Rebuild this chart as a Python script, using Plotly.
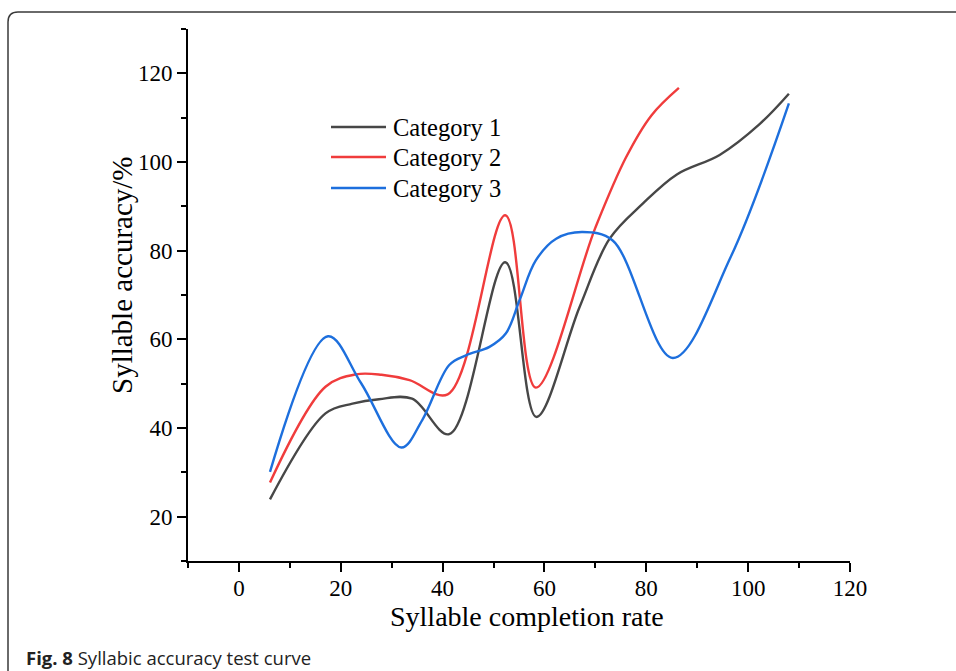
import plotly.graph_objects as go

# ---------------- data ----------------
series_names = ["Category 1", "Category 2", "Category 3"]

cat1_x = [6.1, 17.0, 22.3, 27.5, 34.0, 41.3, 52.3, 58.4, 66.9, 72.8, 79.3, 86.0, 94.4, 102.3, 108.0]
cat1_y = [23.9, 43.3, 45.5, 46.5, 46.6, 38.6, 77.4, 42.5, 67.3, 82.7, 90.6, 97.2, 101.6, 108.6, 115.4]

cat2_x = [6.1, 17.0, 23.0, 28.0, 33.5, 41.0, 52.3, 58.3, 70.0, 76.0, 81.0, 86.4]
cat2_y = [27.7, 49.3, 52.1, 52.0, 50.8, 47.6, 88.0, 49.1, 85.2, 101.0, 110.5, 116.7]

cat3_x = [6.1, 17.5, 24.0, 31.9, 36.0, 41.3, 44.6, 49.2, 52.4, 55.1, 58.3, 62.3, 67.5, 73.4, 85.2, 96.5, 108.0]
cat3_y = [30.1, 60.7, 50.1, 35.6, 41.8, 54.2, 56.4, 58.3, 61.3, 68.8, 77.8, 82.7, 84.2, 82.3, 55.8, 78.4, 113.2]

x_tick_vals = [0, 20, 40, 60, 80, 100, 120]
y_tick_vals = [20, 40, 60, 80, 100, 120]

x_title = "Syllable completion rate"
y_title = "Syllable accuracy/%"
caption_bold = "Fig. 8"
caption_text = " Syllabic accuracy test curve"

# ---------------- styling / layout ----------------
W, H = 956, 671
ML, MR, MT, MB = 188, 106, 29, 110
PW, PH = W - ML - MR, H - MT - MB

def px(xp):
    return (xp - ML) / PW

def py(yp):
    return (H - MB - yp) / PH

colors = ["#474747", "#f03c3c", "#1d6fdd"]
serif = "Liberation Serif, Times New Roman, serif"

fig = go.Figure()
for name, xs, ys, c in zip(series_names, [cat1_x, cat2_x, cat3_x], [cat1_y, cat2_y, cat3_y], colors):
    fig.add_trace(go.Scatter(x=xs, y=ys, mode="lines", name=name, showlegend=False,
                             line=dict(color=c, width=2.4, shape="spline", smoothing=1.0)))

axis_common = dict(showline=True, linecolor="black", linewidth=2, ticks="outside",
                   ticklen=9, tickwidth=2, tickcolor="black", showgrid=False, zeroline=False,
                   tickfont=dict(family=serif, size=23, color="black"),
                   minor=dict(ticks="outside", ticklen=5, tickwidth=2, tickcolor="black", dtick=10, showgrid=False))

fig.update_layout(
    width=W, height=H, margin=dict(l=ML, r=MR, t=MT, b=MB),
    paper_bgcolor="white", plot_bgcolor="white", showlegend=False,
    xaxis=dict(range=[-10, 120], tickvals=x_tick_vals, ticklabelstandoff=-4, **axis_common),
    yaxis=dict(range=[10, 130], tickvals=y_tick_vals, ticklabelstandoff=0, **axis_common),
)

P = dict(xref="paper", yref="paper", showarrow=False)
annotations = [
    dict(x=px(527), y=py(616), text=x_title, xanchor="center", yanchor="middle",
         font=dict(family=serif, size=28, color="black"), **P),
    dict(x=px(122), y=py(275), text=y_title, xanchor="center", yanchor="middle",
         textangle=-90, font=dict(family=serif, size=29, color="black"), **P),
    dict(x=px(24), y=py(657), text="<b>" + caption_bold + "</b>" + caption_text,
         xanchor="left", yanchor="middle", font=dict(family="Open Sans, sans-serif", size=18.5, color="#222"), **P),
]
shapes = []
leg_y = [127, 157, 188]
for name, c, yy in zip(series_names, colors, leg_y):
    shapes.append(dict(type="line", xref="paper", yref="paper", x0=px(331), x1=px(386), y0=py(yy), y1=py(yy),
                       line=dict(color=c, width=2.4)))
    annotations.append(dict(x=px(391), y=py(yy), text=name, xanchor="left", yanchor="middle",
                            font=dict(family=serif, size=24.5, color="black"), **P))

# rounded frame around the figure
r = 10
L, T, R, B = 8, 12, 970, 685
path = (f"M {px(R)},{py(T)} L {px(L + r)},{py(T)} Q {px(L)},{py(T)} {px(L)},{py(T + r)} "
        f"L {px(L)},{py(B - r)} Q {px(L)},{py(B)} {px(L + r)},{py(B)} L {px(R)},{py(B)}")
shapes.append(dict(type="path", xref="paper", yref="paper", path=path, line=dict(color="#3a3a3a", width=1.5)))

fig.update_layout(annotations=annotations, shapes=shapes)

fig.write_html("out.html", config={"displayModeBar": False},
               post_script="document.body.style.margin='0';document.body.style.overflow='hidden';")
